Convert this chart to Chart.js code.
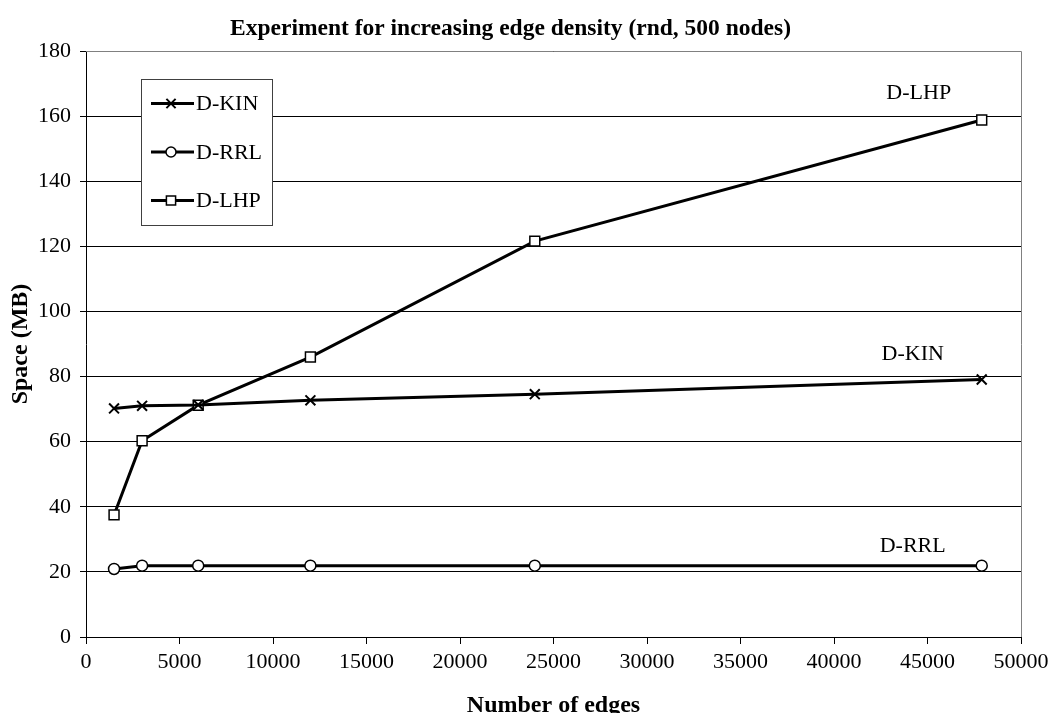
<!DOCTYPE html>
<html>
<head>
<meta charset="utf-8">
<script src="https://cdn.jsdelivr.net/npm/chart.js@4.4.1/dist/chart.umd.min.js"></script>
<style>
  html, body { margin: 0; padding: 0; background: #fff; }
  #wrap { width: 1051px; height: 713px; }
</style>
</head>
<body>
<div id="wrap"><canvas id="edgeChart" width="1051" height="713"></canvas></div>
<script>
// edge counts (x) and space in MB for each method
const edges = [1500, 3000, 6000, 12000, 24000, 47900];
const kinSpace = [70.2, 71.0, 71.3, 72.7, 74.6, 79.1];
const rrlSpace = [20.9, 21.9, 21.9, 21.9, 21.9, 21.9];
const lhpSpace = [37.5, 60.3, 71.2, 86.0, 121.6, 158.8];

const seriesNames = ['D-KIN', 'D-RRL', 'D-LHP'];
const serif = "'Liberation Serif', 'Times New Roman', serif";

function toPoints(ys) {
    return edges.map((x, i) => ({ x: x, y: ys[i] }));
}

// text next to the last point of each line
const endLabels = {
    id: 'endLabels',
    afterDatasetsDraw(chart) {
        const ctx = chart.ctx;
        const offsets = [[-69, -25], [-69, -19], [-63, -27]];
        ctx.save();
        ctx.font = '22px ' + serif;
        ctx.fillStyle = '#000';
        ctx.textAlign = 'center';
        ctx.textBaseline = 'middle';
        chart.data.datasets.forEach((ds, i) => {
            const pts = chart.getDatasetMeta(i).data;
            const last = pts[pts.length - 1];
            ctx.fillText(ds.label, last.x + offsets[i][0], last.y + offsets[i][1]);
        });
        ctx.restore();
    }
};

// box legend inside the plot + frame of the plot area
const boxLegend = {
    id: 'boxLegend',
    beforeDatasetsDraw(chart) {
        const a = chart.chartArea;
        const ctx = chart.ctx;
        ctx.save();
        ctx.strokeStyle = '#808080';
        ctx.lineWidth = 1;
        ctx.beginPath();
        ctx.moveTo(a.left, a.top + 0.5);
        ctx.lineTo(a.right + 0.5, a.top + 0.5);
        ctx.lineTo(a.right + 0.5, a.bottom);
        ctx.stroke();
        ctx.restore();
    },
    afterDatasetsDraw(chart) {
        const a = chart.chartArea;
        const ctx = chart.ctx;
        const bx = a.left + 55, by = a.top + 28, bw = 131, bh = 146;
        ctx.save();
        ctx.fillStyle = '#fff';
        ctx.fillRect(bx, by, bw, bh);
        ctx.strokeStyle = '#404040';
        ctx.lineWidth = 1;
        ctx.strokeRect(bx + 0.5, by + 0.5, bw, bh);
        chart.data.datasets.forEach((ds, i) => {
            const y = by + 24.5 + i * 48.5;
            ctx.strokeStyle = '#000';
            ctx.lineWidth = 3;
            ctx.beginPath();
            ctx.moveTo(bx + 10, y);
            ctx.lineTo(bx + 53, y);
            ctx.stroke();
            ctx.fillStyle = '#fff';
            ctx.strokeStyle = '#000';
            ctx.lineWidth = ds.pointBorderWidth;
            Chart.helpers.drawPoint(ctx, {
                pointStyle: ds.pointStyle,
                radius: ds.pointRadius - 0.5,
                borderWidth: ds.pointBorderWidth
            }, bx + 30, y);
            ctx.fillStyle = '#000';
            ctx.font = '22px ' + serif;
            ctx.textAlign = 'left';
            ctx.textBaseline = 'middle';
            ctx.fillText(ds.label, bx + 55, y + 1);
        });
        ctx.restore();
    }
};

function makeDataset(label, ys, style, radius) {
    return {
        label: label,
        data: toPoints(ys),
        borderColor: '#000',
        borderWidth: 3,
        pointStyle: style,
        pointRadius: radius,
        pointHoverRadius: radius,
        pointBackgroundColor: '#fff',
        pointBorderColor: '#000',
        pointBorderWidth: 1.5,
        tension: 0,
        fill: false
    };
}

const kinSet = makeDataset(seriesNames[0], kinSpace, 'crossRot', 7);
kinSet.pointBorderWidth = 2;

new Chart(document.getElementById('edgeChart'), {
    type: 'line',
    data: {
        datasets: [
            kinSet,
            makeDataset(seriesNames[1], rrlSpace, 'circle', 5.5),
            makeDataset(seriesNames[2], lhpSpace, 'rect', 7)
        ]
    },
    options: {
        responsive: false,
        animation: false,
        layout: { padding: { right: 30, left: 0 } },
        plugins: {
            legend: { display: false },
            tooltip: { enabled: false },
            title: {
                display: true,
                text: 'Experiment for increasing edge density (rnd, 500 nodes)',
                color: '#000',
                font: { family: serif, size: 23.5, weight: 'bold', lineHeight: 1.2 },
                padding: { top: 15, bottom: 7.8 }
            }
        },
        scales: {
            x: {
                type: 'linear',
                min: 0,
                max: 50000,
                afterFit(scale) {
                    scale.height = 76;
                    scale.paddingRight = 0;
                    scale.paddingLeft = 0;
                },
                ticks: {
                    stepSize: 5000,
                    color: '#000',
                    padding: 5,
                    maxRotation: 0,
                    font: { family: serif, size: 22 },
                    callback: v => String(v)
                },
                grid: {
                    drawOnChartArea: false,
                    color: '#000',
                    tickLength: 7
                },
                border: { color: '#000', width: 1 },
                title: {
                    display: true,
                    text: 'Number of edges',
                    color: '#000',
                    font: { family: serif, size: 24, weight: 'bold' },
                    padding: { top: 0, bottom: -7 }
                }
            },
            y: {
                min: 0,
                max: 180,
                afterFit(scale) { scale.width = 86; },
                ticks: {
                    stepSize: 20,
                    color: '#000',
                    padding: 9,
                    font: { family: serif, size: 22 }
                },
                grid: {
                    color: '#000',
                    lineWidth: 1,
                    tickLength: 6
                },
                border: { color: '#000', width: 1 },
                title: {
                    display: true,
                    text: 'Space (MB)',
                    color: '#000',
                    font: { family: serif, size: 24, weight: 'bold' },
                    padding: { top: 6, bottom: 0 }
                }
            }
        }
    },
    plugins: [boxLegend, endLabels]
});
</script>
</body>
</html>
